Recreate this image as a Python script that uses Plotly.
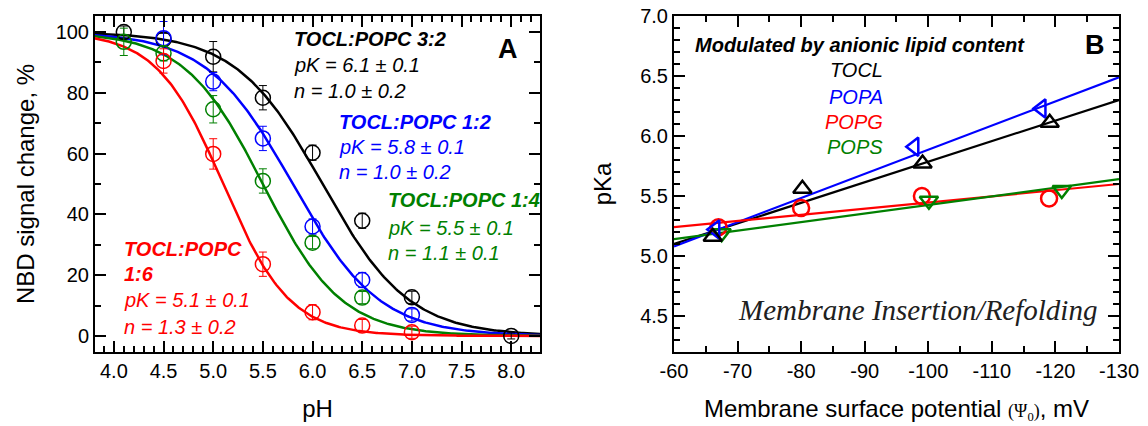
import numpy as np
import plotly.graph_objects as go

# ---------------- Panel A: NBD signal vs pH ----------------
ph_32 = [4.1, 4.5, 5.0, 5.5, 6.0, 6.5, 7.0, 8.0]
sig_32 = [100.0, 97.6, 91.9, 78.4, 60.3, 37.9, 12.7, 0.0]
err_32 = [2.0, 2.0, 5.0, 4.0, 2.5, 2.5, 2.0, 1.0]

ph_12 = [4.5, 5.0, 5.5, 6.0, 6.5, 7.0]
sig_12 = [98.0, 83.7, 65.0, 36.0, 18.4, 6.9]
err_12 = [5.5, 3.0, 4.0, 2.5, 2.5, 2.0]

ph_14 = [4.1, 4.5, 5.0, 5.5, 6.0, 6.5]
sig_14 = [96.8, 93.0, 74.6, 51.0, 30.7, 12.6]
err_14 = [4.5, 2.5, 4.5, 4.0, 2.0, 2.0]

ph_16 = [4.5, 5.0, 5.5, 6.0, 6.5, 7.0]
sig_16 = [90.5, 59.9, 23.6, 7.8, 3.4, 1.2]
err_16 = [4.0, 5.0, 4.0, 2.5, 2.0, 2.0]

# Hill fit parameters (pK, n) for each TOCL:POPC ratio
pk_values = [6.1, 5.8, 5.5, 5.1]
n_values = [1.0, 1.0, 1.1, 1.3]

# ---------------- Panel B: pKa vs surface potential ----------------
psi_tocl = [-66.1, -80.2, -99.1, -119.1]
pka_tocl = [5.16, 5.56, 5.77, 6.11]
psi_popa = [-66.5, -97.8, -117.8]
pka_popa = [5.22, 5.91, 6.23]
psi_popg = [-67.0, -80.0, -99.0, -119.0]
pka_popg = [5.24, 5.40, 5.50, 5.48]
psi_pops = [-67.5, -100.1, -121.0]
pka_pops = [5.19, 5.46, 5.55]

# linear fits, evaluated at the ends of the potential axis
fit_psi = [-60, -130]
fit_tocl = [5.10, 6.30]
fit_popa = [5.08, 6.49]
fit_popg = [5.24, 5.60]
fit_pops = [5.14, 5.64]

# potential axis tick labels (plain hyphen)
psi_ticks = [-60, -70, -80, -90, -100, -110, -120, -130]
psi_tick_text = ["-60", "-70", "-80", "-90", "-100", "-110", "-120", "-130"]

BLACK, BLUE, GREEN, RED = "#000000", "#0000ff", "#008000", "#ff0000"
FONT = "Arial, Liberation Sans, sans-serif"

fig = go.Figure()


def hill(ph, pk, n):
    return 100.0 / (1.0 + 10.0 ** (n * (ph - pk)))


ph_grid = np.linspace(3.8, 8.3, 300)
series_a = [
    (ph_32, sig_32, err_32, BLACK),
    (ph_12, sig_12, err_12, BLUE),
    (ph_14, sig_14, err_14, GREEN),
    (ph_16, sig_16, err_16, RED),
]
for (px, py, pe, col), pk, n in zip(series_a, pk_values, n_values):
    fig.add_trace(go.Scatter(
        x=ph_grid, y=hill(ph_grid, pk, n), mode="lines",
        line=dict(color=col, width=2.5), xaxis="x", yaxis="y",
        showlegend=False, hoverinfo="skip"))
for px, py, pe, col in series_a:
    fig.add_trace(go.Scatter(
        x=px, y=py, mode="markers", xaxis="x", yaxis="y",
        marker=dict(symbol="circle-open", size=15, color=col,
                    line=dict(color=col, width=1.5)),
        error_y=dict(type="data", array=pe, color=col, thickness=1, width=4),
        showlegend=False))

# Panel B fit lines
for ys, col in [(fit_tocl, BLACK), (fit_popa, BLUE), (fit_popg, RED), (fit_pops, GREEN)]:
    fig.add_trace(go.Scatter(
        x=fit_psi, y=ys, mode="lines", line=dict(color=col, width=2.2),
        xaxis="x2", yaxis="y2", showlegend=False, hoverinfo="skip"))

for xs, ys, sym, col in [
    (psi_popg, pka_popg, "circle-open", RED),
    (psi_pops, pka_pops, "triangle-down-open", GREEN),
    (psi_popa, pka_popa, "triangle-left-open", BLUE),
    (psi_tocl, pka_tocl, "triangle-up-open", BLACK),
]:
    fig.add_trace(go.Scatter(
        x=xs, y=ys, mode="markers", xaxis="x2", yaxis="y2",
        marker=dict(symbol=sym, size=16, color=col, line=dict(color=col, width=2.5)),
        showlegend=False))

tick_font = dict(family=FONT, size=20, color="black")
title_font = dict(family=FONT, size=24, color="black")
minor_ticks = dict(ticks="inside", ticklen=6, tickwidth=2, tickcolor="black")
axis_common = dict(
    showline=True, linecolor="black", linewidth=2, mirror="allticks",
    ticks="inside", ticklen=11, tickwidth=2, tickcolor="black",
    showgrid=False, zeroline=False, tickfont=tick_font, automargin=False,
)

fig.update_layout(
    template="simple_white",
    width=1148, height=426,
    margin=dict(l=95, r=29, t=16, b=74),
    paper_bgcolor="white", plot_bgcolor="white",
    font=dict(family=FONT, color="black"),
    xaxis=dict(
        **axis_common, domain=[0, 0.4346], range=[3.81, 8.29],
        tickmode="linear", tick0=4.0, dtick=0.5, tickformat=".1f",
        minor=dict(dtick=0.1, tick0=4.0, **minor_ticks),
        title=dict(text="pH", font=title_font, standoff=19),
    ),
    yaxis=dict(
        **axis_common, domain=[0, 1], range=[-5.3, 105.3],
        tickmode="linear", tick0=0, dtick=20,
        minor=dict(dtick=10, **minor_ticks),
        title=dict(text="NBD signal change, %", font=title_font, standoff=14),
    ),
    xaxis2=dict(
        **axis_common, domain=[0.5654, 1], range=[-60, -130], anchor="y2",
        tickmode="array", tickvals=psi_ticks, ticktext=psi_tick_text,
        minor=dict(dtick=5, tick0=0, **minor_ticks),
        title=dict(
            text="Membrane surface potential "
                 "<span style='font-family:Liberation Serif;font-size:18px'>(Ψ<sub>0</sub>)</span>"
                 ", mV",
            font=title_font, standoff=19),
    ),
    yaxis2=dict(
        **axis_common, domain=[0, 1], range=[4.2, 7.0], anchor="x2",
        tickmode="linear", tick0=0, dtick=0.5, tickformat=".1f",
        minor=dict(dtick=0.1, **minor_ticks),
        title=dict(text="pKa", font=title_font, standoff=22),
    ),
)


def px_to_paper(px, py):
    return (px - 95) / 1024.0, (352 - py) / 336.0


def note(px, py, text, color, size=20, bold=False, italic=True,
         family=FONT, xanchor="left"):
    x, y = px_to_paper(px, py)
    if bold:
        text = f"<b>{text}</b>"
    if italic:
        text = f"<i>{text}</i>"
    fig.add_annotation(x=x, y=y, xref="paper", yref="paper", text=text,
                       showarrow=False, xanchor=xanchor, yanchor="middle",
                       font=dict(family=family, size=size, color=color))


# Panel A labels
note(292, 39, "TOCL:POPC 3:2", BLACK, bold=True)
note(292, 65, "pK = 6.1 ± 0.1", BLACK)
note(292, 91, "n = 1.0 ± 0.2", BLACK)

note(337, 122, "TOCL:POPC 1:2", BLUE, bold=True)
note(337, 147, "pK = 5.8 ± 0.1", BLUE)
note(337, 172, "n = 1.0 ± 0.2", BLUE)

note(386, 200, "TOCL:POPC 1:4", GREEN, bold=True)
note(386, 228, "pK = 5.5 ± 0.1", GREEN)
note(386, 253, "n = 1.1 ± 0.1", GREEN)

note(122, 249, "TOCL:POPC", RED, bold=True)
note(122, 274, "1:6", RED, bold=True)
note(122, 300, "pK = 5.1 ± 0.1", RED)
note(122, 327, "n = 1.3 ± 0.2", RED)

note(508, 49, "A", BLACK, size=27, bold=True, italic=False, xanchor="center")

# Panel B labels
note(693, 45, "Modulated by anionic lipid content", BLACK, bold=True)
note(885, 70, "TOCL", BLACK, xanchor="right")
note(885, 97, "POPA", BLUE, xanchor="right")
note(885, 122, "POPG", RED, xanchor="right")
note(885, 147, "POPS", GREEN, xanchor="right")
note(1095, 45, "B", BLACK, size=27, bold=True, italic=False, xanchor="center")
note(917, 310, "Membrane Insertion/Refolding", "#202020", size=29,
     family="Liberation Serif, serif", xanchor="center")

fig.write_html("out.html")
